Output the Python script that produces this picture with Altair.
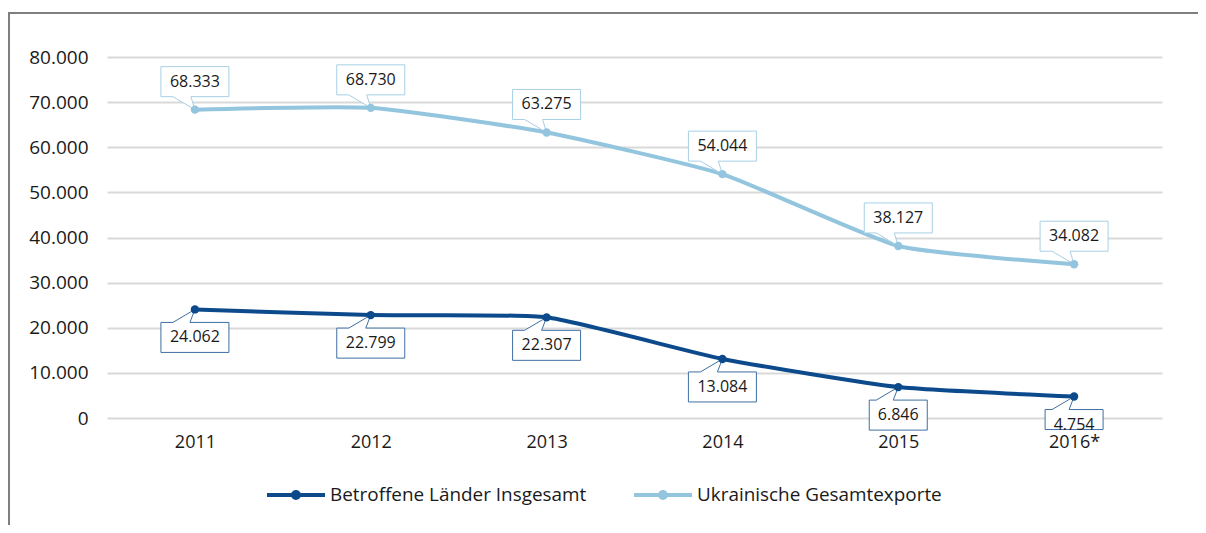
import altair as alt
import pandas as pd

years = ["2011", "2012", "2013", "2014", "2015", "2016*"]
betroffene = [24062, 22799, 22307, 13084, 6846, 4754]
ukraine = [68333, 68730, 63275, 54044, 38127, 34082]
series_names = ["Betroffene Länder Insgesamt", "Ukrainische Gesamtexporte"]
y_ticks = [0, 10000, 20000, 30000, 40000, 50000, 60000, 70000, 80000]

line_colors = ["#0c4a8b", "#93c5de"]
box_colors = ["#3f6fa3", "#a6d0e4"]
FONT = "Open Sans"
TXT = "#1a1a1a"


def fmt(v):
    return f"{v:,}".replace(",", ".")


rows = []
for i, y in enumerate(years):
    lbl = fmt(betroffene[i])
    kind = "bot6" if len(lbl) == 6 else "bot5"
    if i == len(years) - 1:
        kind = "bot5s"
    rows.append({"year": y, "value": betroffene[i], "series": series_names[0], "label": lbl, "kind": kind})
for i, y in enumerate(years):
    lbl = fmt(ukraine[i])
    rows.append({"year": y, "value": ukraine[i], "series": series_names[1], "label": lbl, "kind": "top6"})
df = pd.DataFrame(rows)

kinds = ["top6", "bot6", "bot5", "bot5s"]
paths = [
    "M-1,-1.265L1,-1.265L1,-0.382L-0.118,-0.382L0,0L-0.647,-0.382L-1,-0.382Z",
    "M-1,1.265L1,1.265L1,0.382L-0.147,0.382L0,0L-0.647,0.382L-1,0.382Z",
    "M-0.853,1.265L0.853,1.265L0.853,0.382L-0.147,0.382L0,0L-0.647,0.382L-0.853,0.382Z",
    "M-0.853,0.971L0.853,0.971L0.853,0.382L-0.147,0.382L0,0L-0.647,0.382L-0.853,0.382Z",
]

legend_symbol = ("M-1,-0.069L1,-0.069L1,0.069L-1,0.069Z "
                 "M-0.17,0A0.17,0.17 0 1 1 0.17,0A0.17,0.17 0 1 1 -0.17,0Z")

x_enc = alt.X("year:N", sort=years, scale=alt.Scale(type="point", padding=0.5),
              axis=alt.Axis(title=None, labelAngle=0, domain=False, ticks=False, tickSize=0,
                            labelPadding=15, labelFontSize=18, labelFont=FONT, labelColor=TXT,
                            grid=False))
y_enc = alt.Y("value:Q", scale=alt.Scale(domain=[0, 80000], nice=False),
              axis=alt.Axis(title=None, values=y_ticks, domain=False, ticks=False, tickSize=0,
                            labelPadding=19, labelFontSize=19, labelFont=FONT, labelColor=TXT,
                            gridColor="#d9d9d9", gridWidth=2,
                            labelExpr="replace(format(datum.value, ','), ',', '.')"))

base = alt.Chart(df)

frame = alt.Chart(pd.DataFrame({"a": [0]})).mark_rect(
    fillOpacity=0, stroke="#7f7f7f", strokeWidth=2
).encode(x=alt.value(-98), x2=alt.value(1400), y=alt.value(-44), y2=alt.value(800))

line = base.mark_line(strokeWidth=4, interpolate="cardinal", tension=0.5).encode(
    x=x_enc, y=y_enc,
    stroke=alt.Stroke("series:N", scale=alt.Scale(domain=series_names, range=line_colors), legend=None),
)

boxes = base.mark_point(filled=True, fill="white", strokeWidth=1, size=4624, opacity=1).encode(
    x=x_enc, y=y_enc,
    shape=alt.Shape("kind:N", scale=alt.Scale(domain=kinds, range=paths), legend=None),
    stroke=alt.Stroke("series:N", scale=alt.Scale(domain=series_names, range=box_colors), legend=None),
)

points = base.mark_circle(size=70, opacity=1).encode(
    x=x_enc, y=y_enc,
    color=alt.Color("series:N", scale=alt.Scale(domain=series_names, range=line_colors),
                    legend=alt.Legend(title=None, orient="none", legendX=160, legendY=409,
                                      direction="horizontal", symbolType=legend_symbol,
                                      symbolSize=3364, symbolStrokeWidth=0, symbolOpacity=1,
                                      labelFontSize=18.9, labelFont=FONT, labelColor=TXT,
                                      labelLimit=0, labelOffset=5, columnPadding=47)),
)

text_top = base.transform_filter(alt.datum.series == series_names[1]).mark_text(
    dy=-28, fontSize=16, font=FONT, color=TXT
).encode(x=x_enc, y=y_enc, text="label:N")

text_bot = base.transform_filter(alt.datum.series == series_names[0]).mark_text(
    dy=28, fontSize=16, font=FONT, color=TXT
).encode(x=x_enc, y=y_enc, text="label:N")

chart = alt.layer(frame, line, boxes, points, text_top, text_bot).properties(
    width=1055, height=361,
    autosize=alt.AutoSizeParams(type="none"),
    padding={"left": 99, "top": 49, "right": 36, "bottom": 107},
).resolve_scale(stroke="independent").configure_view(stroke=None)

chart.save("out.html", embed_options={"renderer": "svg", "actions": False})
